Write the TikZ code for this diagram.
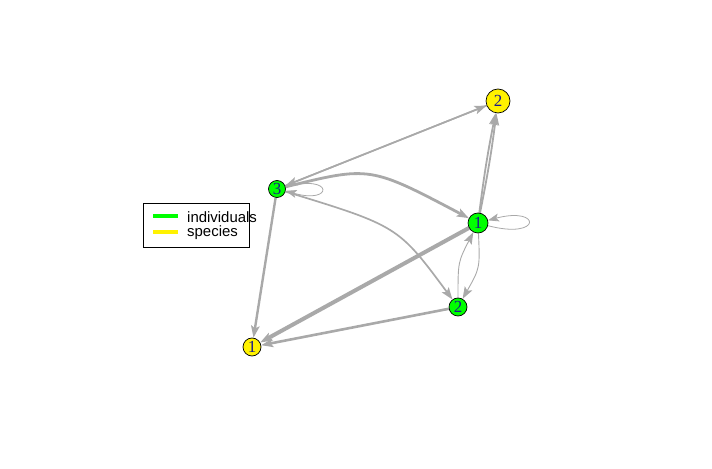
\documentclass[tikz,border=0pt]{standalone}
\usepackage{fontspec}
\setmainfont{Liberation Serif}
\setsansfont{Liberation Sans}
\usetikzlibrary{arrows.meta}
\definecolor{edgegray}{HTML}{A9A9A9}
\definecolor{labblue}{HTML}{1A1A8C}
\pgfdeclarelayer{bg}
\pgfsetlayers{bg,main}
\tikzset{
  vtx/.style={circle,draw=black,line width=0.7bp,inner sep=0pt,text=labblue,font=\fontsize{17}{17}\selectfont},
  indiv/.style={vtx,fill=green,minimum size=#1},
  spec/.style={vtx,fill=yellow,minimum size=#1},
  e/.style={draw=edgegray,line width=#1,-{Stealth[length=12bp,width=8.5bp,inset=2.5bp]}},
  thin loop/.style={draw=edgegray,line width=0.8bp,-{Stealth[length=11bp,width=8bp,inset=2.5bp]}},
  legtext/.style={anchor=west,inner sep=0pt,font=\sffamily\fontsize{15}{15}\selectfont},
}
\begin{document}
\begin{tikzpicture}[x=1bp,y=-1bp]
\useasboundingbox (0,0) rectangle (712,469);
% nodes
\node[spec=24bp] (S2) at (498,101) {2};
\node[indiv=17bp] (I3) at (277,189) {3};
\node[indiv=20bp] (I1) at (478,223) {1};
\node[indiv=18bp] (I2) at (458,307) {2};
\node[spec=18bp] (S1) at (252,347) {1};
% edges (behind nodes)
\begin{pgfonlayer}{bg}
\draw[e=1.6bp] (I3) -- (S2);
\draw[e=1.6bp] (S2) -- (I3);
\draw[thin loop] (I3.12) .. controls (334,173) and (334,205) .. (I3.-12);
\draw[e=2.8bp] (I3) .. controls (370,166) .. (I1);
\draw[e=1.7bp] (I3) .. controls (398,226) .. (I2);
\draw[e=2.4bp] (I3) -- (S1);
\draw[e=4bp] (I1) -- (S1);
\draw[e=2.6bp] (I2) -- (S1);
\draw[e=1.8bp] (I1) to[bend left=2] (S2);
\draw[e=1.8bp] (I1) to[bend right=2] (S2);
\draw[thin loop] (I1.-15) .. controls (542,240) and (542,206) .. (I1.15);
\draw[e=0.9bp] (I2) .. controls (458,262) .. (I1);
\draw[e=0.9bp] (I1) .. controls (480,268) .. (I2);
\end{pgfonlayer}
% legend
\node[draw=black,line width=0.8bp,minimum width=106bp,minimum height=44bp,inner sep=0pt] (leg) at (196,225) {};
\coordinate (g1) at (153,216);
\coordinate (g2) at (178,216);
\coordinate (y1) at (153,232);
\coordinate (y2) at (178,232);
\draw[green,line width=3.5bp] (g1) -- (g2);
\draw[yellow,line width=3.5bp] (y1) -- (y2);
\node[legtext] (t1) at (187,217) {individuals};
\node[legtext] (t2) at (187,233) {species};
\end{tikzpicture}
\end{document}
